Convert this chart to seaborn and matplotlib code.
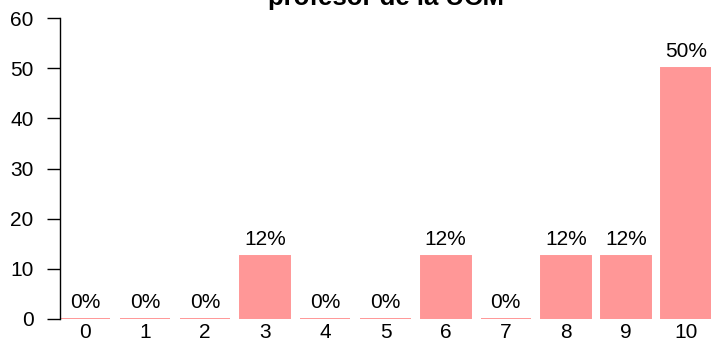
import matplotlib
matplotlib.use("Agg")
import matplotlib.pyplot as plt
import seaborn as sns
import pandas as pd

categories = ["0", "1", "2", "3", "4", "5", "6", "7", "8", "9", "10"]
values = [0, 0, 0, 12.5, 0, 0, 12.5, 0, 12.5, 12.5, 50]
labels = ["0%", "0%", "0%", "12%", "0%", "0%", "12%", "0%", "12%", "12%", "50%"]
title = "profesor de la UCM"
yticks = [0, 10, 20, 30, 40, 50, 60]

sns.set_theme(style="white")
plt.rcParams["font.family"] = ["Liberation Sans", "DejaVu Sans"]

W, H = 711, 341
FS = 15
fig = plt.figure(figsize=(W / 100, H / 100), dpi=100)
ax = fig.add_axes([60 / W, 22 / H, (W - 60) / W, 301 / H])

df = pd.DataFrame({"cat": categories, "val": values})
color = "#FF9797"
sns.barplot(data=df, x="cat", y="val", order=categories, color=color,
            saturation=1, width=0.833, ax=ax, edgecolor=color, linewidth=1.4)

ax.set_xlim(-0.4167, 10.4167)
ax.set_ylim(0, 60)
ax.set_yticks(yticks)
ax.set_yticklabels([str(t) for t in yticks], fontsize=FS, color="black")
ax.tick_params(axis="y", left=True, length=9.5, width=1.0, pad=9.5, color="black")
ax.tick_params(axis="x", bottom=False, length=0, pad=3, labelsize=FS, labelcolor="black")
ax.set_xlabel("")
ax.set_ylabel("")
for s in ["top", "right", "bottom"]:
    ax.spines[s].set_visible(False)
ax.spines["left"].set_color("black")
ax.spines["left"].set_linewidth(1.0)

for i, (v, lab) in enumerate(zip(values, labels)):
    ax.annotate(lab, xy=(i, v), xytext=(0, 8), textcoords="offset points",
                ha="center", va="baseline", fontsize=FS, color="black",
                annotation_clip=False)

fig.text((60 + 711) / 2 / W, 1 - 5 / H, title, ha="center", va="baseline",
         fontsize=18.5, fontweight="bold", color="black")

fig.savefig("out.png", dpi=100, facecolor="white")
